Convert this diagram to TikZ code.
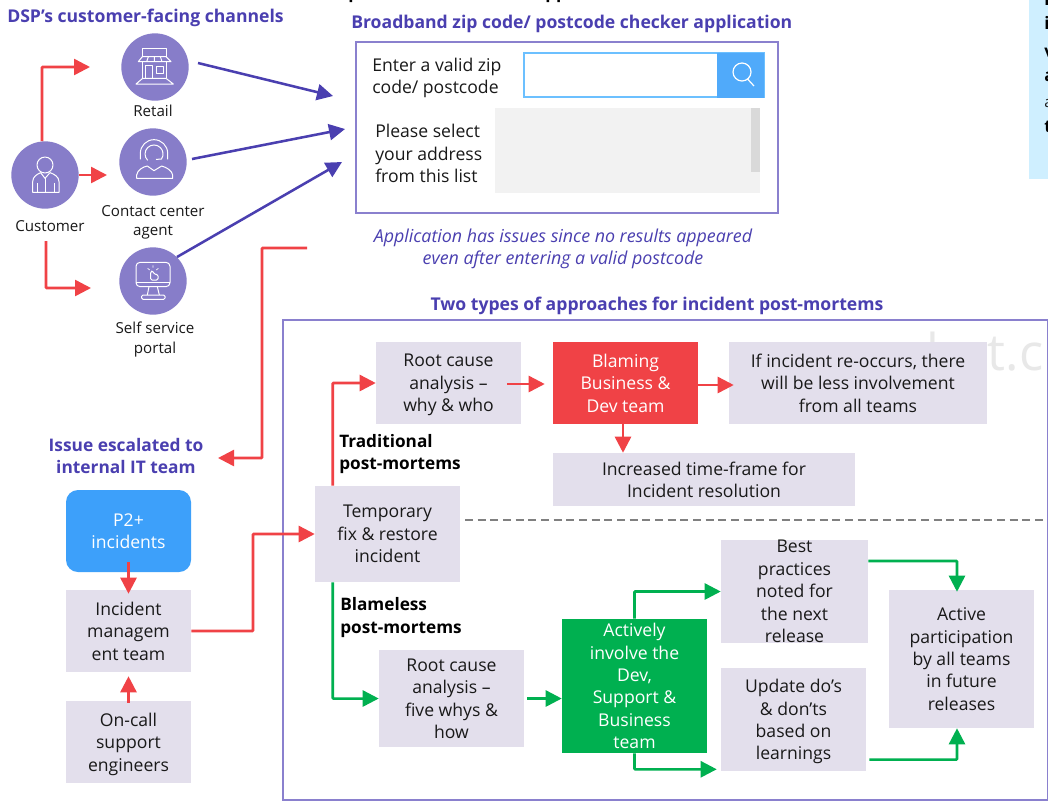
\documentclass[tikz,border=0pt]{standalone}
\usepackage{fontspec}
\setmainfont{Open Sans}
\usetikzlibrary{arrows.meta,calc}
\definecolor{purp}{HTML}{4A3FB0}
\definecolor{circ}{HTML}{877DC9}
\definecolor{frame}{HTML}{8A80CE}
\definecolor{redc}{HTML}{F04246}
\definecolor{greenc}{HTML}{00B050}
\definecolor{boxc}{HTML}{E3DFEC}
\definecolor{bluec}{HTML}{3DA0FA}
\definecolor{pale}{HTML}{CFEFFF}
\definecolor{fieldc}{HTML}{6CC0FF}
\tikzset{
 body/.style={font=\fontsize{13.2}{16.8}\selectfont,align=center,inner sep=0pt,text=black!90,text depth=-5pt},
 lbl/.style={font=\fontsize{11.35}{14.4}\selectfont,align=center,inner sep=0pt,text=black!90},
 head/.style={font=\fontsize{13.2}{16.6}\selectfont\bfseries,align=center,inner sep=0pt,text=purp},
 tag/.style={font=\fontsize{12.9}{16.8}\selectfont\bfseries,align=left,inner sep=0pt,text=black},
 gbox/.style={body,fill=boxc},
 chan/.style={circle,fill=circ,minimum size=50.5pt,inner sep=0pt},
 redarr/.style={draw=redc,line width=1.9pt,-{Triangle[length=12pt,width=12pt]},rounded corners=0.5pt},
 grnarr/.style={draw=greenc,line width=1.9pt,-{Triangle[length=12pt,width=12pt]},rounded corners=0.5pt},
 bluarr/.style={draw=purp,line width=1.9pt,-{Triangle[length=12pt,width=12pt]}},
 ico/.style={draw=white,line width=.75pt,line join=round},
}
\begin{document}
\begin{tikzpicture}[x=0.75pt,y=-0.75pt]
\useasboundingbox (0,0) rectangle (1048,801);
\clip (0,0) rectangle (1048,801);
\fill[white] (0,0) rectangle (1048,801);
% cut-off fragments at the page edges
\node[fill=pale,minimum width=14.25pt,minimum height=134.25pt,inner sep=0pt] (side) at (1038.5,89.5) {};
\node[tag,anchor=base west] (f9) at (1044,5) {l};
\node[tag,anchor=base west] (f0) at (1044,29) {i};
\node[tag,anchor=base west] (f1) at (1044,57) {v};
\node[tag,anchor=base west] (f2) at (1044,81) {a};
\node[lbl,anchor=base west] (f3) at (1044,107) {a};
\node[tag,anchor=base west] (f4) at (1044,132) {t};
\node[tag,anchor=base west] (f5) at (348,-1.5) {p};
\node[tag,anchor=base west] (f6) at (545,-1.5) {pp};
% watermark
\node[anchor=base west,inner sep=0pt,text=black!9,font=\fontsize{38}{38}\selectfont] (wm) at (926,370) {bot.c};
% titles
\node[head,anchor=west] (t1) at (7,17.5) {DSP’s customer-facing channels};
\node[head,anchor=west] (t2) at (351,24) {Broadband zip code/ postcode checker application};
\node[head] (t3) at (657,306) {Two types of approaches for incident post-mortems};
\node[head,font=\fontsize{13}{16.6}\selectfont\bfseries] (t4) at (126,456) {Issue escalated to\\internal IT team};
% channels
\node[chan] (retail) at (155,67) {};
\node[chan] (contact) at (153,162) {};
\node[chan] (cust) at (45,175) {};
\node[chan] (self) at (153,281) {};
\node[lbl] (lretail) at (153,111) {Retail};
\node[lbl] (lcontact) at (153,222) {Contact center\\agent};
\node[lbl] (lcust) at (50,226.5) {Customer};
\node[lbl] (lself) at (155,339.5) {Self service\\portal};
% icons, in units of a third of a pixel
\begin{scope}[x=.25pt,y=-.25pt]
 \draw[ico] (427,170)--(427,145)--(498,145)--(498,170);
 \draw[ico] (427,170)--(415,185)--(513,185)--(498,170)--cycle;
 \draw[ico] (445,170)--(440,185) (463,170)--(463,185) (481,170)--(486,185);
 \draw[ico] (428,185)--(428,235) (498,185)--(498,235);
 \draw[ico] (437,235)--(437,195)--(458,195)--(458,235);
 \draw[ico] (470,200) rectangle (490,220);
 \draw[ico] (428,235)--(408,252)--(520,252)--(498,235)--cycle;
 % agent
 \draw[ico] (421,478)--(421,460) arc[start angle=180,end angle=360,radius=41]--(503,478);
 \draw[ico] (443,481) arc[start angle=135,end angle=395,radius=27]--(468,478);
 \draw[ico] (410,535)--(410,525) .. controls (412,510) and (430,500) .. (442,498)--(462,512)--(485,498) .. controls (500,502) and (516,512) .. (518,525)--(518,535)--cycle;
 % customer
 \draw[ico] (135,495) circle[radius=24];
 \draw[ico] (98,577)--(98,545) .. controls (98,530) and (112,522) .. (122,518)--(135,535)--(150,518) .. controls (162,522) and (177,530) .. (177,545)--(177,577)--cycle;
 \draw[ico] (135,535)--(135,577) (112,550)--(112,577) (162,550)--(162,577);
 % portal
 \draw[ico,rounded corners=3pt] (408,787) rectangle (510,860);
 \draw[ico] (408,848)--(510,848);
 \draw[ico] (447,860)--(442,885) (472,860)--(478,885);
 \draw[ico,rounded corners=1pt] (425,885) rectangle (495,898);
 \draw[ico,rounded corners=1pt] (452,840)--(452,815)--(458,812)--(462,822)--(474,824)--(474,840)--cycle;
 \draw[ico,line width=.5pt] (443,805)--(449,810) (459,796)--(459,803) (475,805)--(469,810);
\end{scope}
% checker application
\node[draw=frame,line width=1.9pt,fill=white,minimum width=316.5pt,minimum height=128.25pt,inner sep=0pt] (app) at (567,127.5) {};
\node[draw=fieldc,line width=1.4pt,fill=white,minimum width=180pt,minimum height=33pt,inner sep=0pt] (field) at (644,75) {};
\node[fill=bluec!90!white,minimum width=35.25pt,minimum height=33.75pt,inner sep=0pt] (btn) at (740.5,75) {};
\draw[white,line width=.9pt] (742,72) circle[radius=9] (748,79.5)--(754,86);
\node[fill=black!5,minimum width=198.75pt,minimum height=63.75pt,inner sep=0pt] (list) at (627.5,150.5) {};
\node[fill=black!15,minimum width=6.75pt,minimum height=48pt,inner sep=0pt] (scroll) at (755.5,140) {};
\node[body,align=left,anchor=west] (q1) at (372,76) {Enter a valid zip\\code/ postcode};
\node[body,align=left,anchor=west] (q2) at (375,153.5) {Please select\\your address\\from this list};
\node[font=\fontsize{13.37}{16.8}\selectfont\itshape,text=purp,align=center,inner sep=0pt] (note) at (563,249) {Application has issues since no results appeared\\even after entering a valid postcode};
% post-mortem frame
\node[draw=frame,line width=1.9pt,minimum width=574pt,minimum height=360pt,inner sep=0pt] (pm) at (665.5,560) {};
\coordinate (dashl) at (465,520);
\coordinate (dashr) at (1048,520);
\draw[black!50,line width=1.1pt,dash pattern=on 6pt off 3.5pt] (dashl) -- (dashr);
% left column
\node[body,fill=bluec,text=white,rounded corners=9pt,minimum width=93.75pt,minimum height=61.5pt] (p2) at (128.5,531) {P2+\\incidents};
\node[gbox,minimum width=93.75pt,minimum height=61.5pt] (inc) at (128.5,631) {Incident\\managem\\ent team};
\node[gbox,minimum width=93.75pt,minimum height=61.5pt] (oncall) at (128.5,742) {On-call\\support\\engineers};
% flow boxes
\node[gbox,minimum width=108.75pt,minimum height=72pt] (temp) at (387.5,534) {Temporary\\fix \& restore\\incident};
\node[gbox,minimum width=108.75pt,minimum height=61.5pt] (rc1) at (448.5,383) {Root cause\\analysis –\\why \& who};
\node[body,fill=redc,text=white,minimum width=108.75pt,minimum height=61.5pt] (blame) at (625.5,383) {Blaming\\Business \&\\Dev team};
\node[gbox,minimum width=193.5pt,minimum height=61.5pt] (ifinc) at (858,383) {If incident re-occurs, there\\will be less involvement\\from all teams};
\node[gbox,minimum width=226.5pt,minimum height=39.75pt] (time) at (704,479.5) {Increased time-frame for\\Incident resolution};
\node[gbox,minimum width=108.75pt,minimum height=72.75pt] (rc2) at (451.5,698.5) {Root cause\\analysis –\\five whys \&\\how};
\node[body,fill=greenc,text=white,minimum width=108.75pt,minimum height=100.5pt] (act) at (634.5,686) {Actively\\involve the\\Dev,\\Support \&\\Business\\team};
\node[gbox,minimum width=110.25pt,minimum height=77.25pt] (best) at (794.5,591.5) {Best\\practices\\noted for\\the next\\release};
\node[gbox,minimum width=108.75pt,minimum height=77.25pt] (upd) at (793.5,719.5) {Update do’s\\\& don’ts\\based on\\learnings};
\node[gbox,minimum width=108.75pt,minimum height=103.5pt] (part) at (961.5,659) {Active\\participation\\by all teams\\in future\\releases};
\node[tag,anchor=west] (tr) at (339,454) {Traditional\\post-mortems};
\node[tag,anchor=west] (bl) at (340,617.5) {Blameless\\post-mortems};
% free ends
\coordinate (e1) at (90,67);
\coordinate (e2) at (107,175);
\coordinate (e3s) at (46,241);
\coordinate (e3) at (91,288);
\coordinate (b1s) at (198,63);
\coordinate (b1) at (333,96);
\coordinate (b2s) at (192,159);
\coordinate (b2) at (345,129);
\coordinate (b3s) at (177,257);
\coordinate (b3) at (342,162);
\coordinate (esc1) at (307,248);
\coordinate (esc2) at (218,458);
% red connectors
\draw[redarr] ($(cust.north)+(-3,0)$) |- (e1);
\draw[redarr] (cust.east) -- (e2);
\draw[redarr] (e3s) |- (e3);
\draw[redarr] (esc1) -| (262,458) -- (esc2);
\draw[redarr] ($(p2.south)+(0,-10)$) -- ($(inc.north)+(0,4)$);
\draw[redarr] (oncall.north) ++(0,2) -- ($(inc.south)+(0,4)$);
\draw[redarr] (inc.east) -- (253,631) |- (temp.west);
\draw[redarr] ($(temp.north west)+(18,0)$) |- (rc1.west);
\draw[redarr] ($(rc1.east)+(-14,1)$) -- ($(blame.west)+(-8,1)$);
\draw[redarr] (blame.east) ++(0,2) -- ($(ifinc.west)+(5,2)$);
\draw[redarr] ($(blame.south)+(-2.5,0)$) -- ($(time.north -| blame.south)+(-2.5,0)$);
% purple connectors
\draw[bluarr] (b1s) -- (b1);
\draw[bluarr] (b2s) -- (b2);
\draw[bluarr] (b3s) -- (b3);
% green connectors
\draw[grnarr] ($(temp.south west)+(18,0)$) |- (rc2.west);
\draw[grnarr] ($(rc2.east)+(3,0)$) -- (act.west |- rc2.east);
\draw[grnarr] (act.north) |- ($(best.west)+(0,0)$);
\draw[grnarr] (act.south) |- ($(upd.south west)+(-4,-2)$);
\draw[grnarr] ($(best.east)+(0,-30.5)$) -| ($(part.north)+(-4.5,2)$);
\draw[grnarr] ($(upd.east)+(3,40)$) -| ($(part.south)+(-4.5,0)$);
\end{tikzpicture}
\end{document}
